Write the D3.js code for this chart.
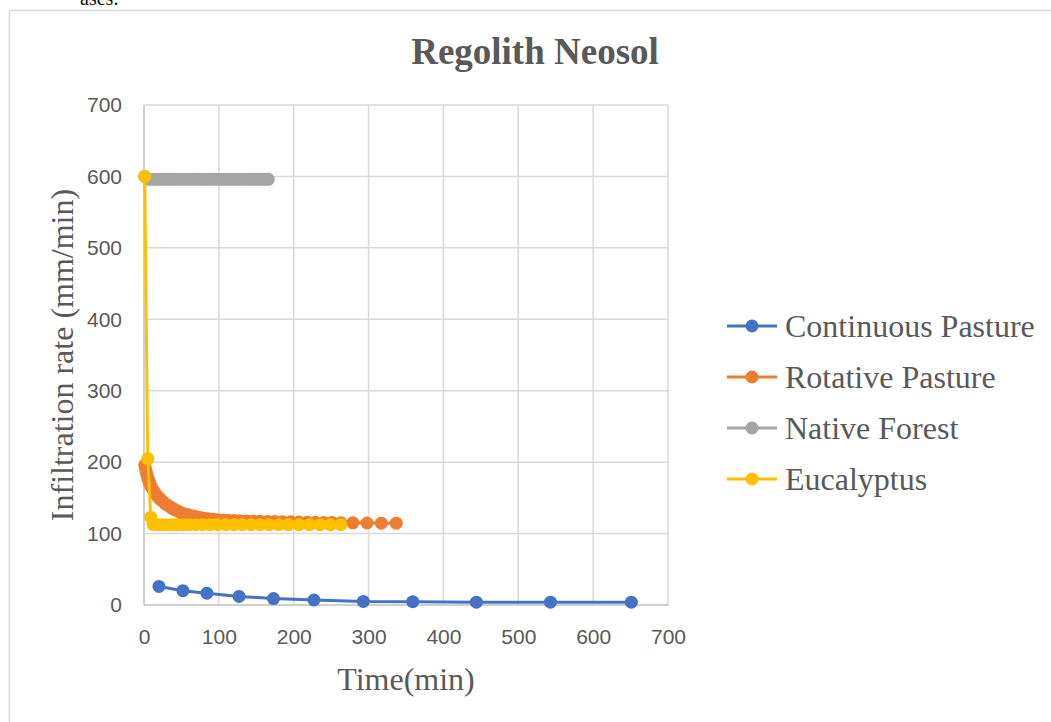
<!DOCTYPE html>
<html>
<head>
<meta charset="utf-8">
<script src="https://cdn.jsdelivr.net/npm/d3@7"></script>
<style>
  body { margin: 0; background: #fff; }
  svg { display: block; }
</style>
</head>
<body>
<svg id="chart"></svg>
<script>
// 1) Data
const seriesNames = ["Continuous Pasture", "Rotative Pasture", "Native Forest", "Eucalyptus"]
const seriesColors = ["#4472C4", "#ED7D31", "#A5A5A5", "#FFC000"]

const continuousTime = [20, 52, 84, 127, 173, 227, 293, 359, 444, 543, 651]
const continuousRate = [26, 20, 16.5, 12, 9, 7, 5, 4.6, 4, 4, 4]

const rotativeTime = [1, 2, 3, 4, 5, 6, 7, 8, 10, 12, 14, 16, 18, 20, 22, 25, 28, 31, 34, 37,
  40, 44, 48, 52, 56, 60, 65, 70, 75, 80, 86, 92, 98, 105, 112, 120, 128, 137, 146, 155,
  165, 175, 185, 196, 207, 218, 229, 240, 251, 263, 279, 298, 317, 337]
const rotativeRate = [196, 191, 186, 182, 178, 175, 172, 169, 165, 161, 158, 155, 152, 150, 148, 145, 142, 140, 138, 136,
  134, 132, 130, 128, 127, 126, 124.5, 123.5, 122.5, 121.5, 120.8, 120, 119.5, 119, 118.7, 118.4, 118, 117.7, 117.4, 117.2,
  117, 116.8, 116.6, 116.4, 116.2, 116, 115.8, 115.6, 115.4, 115.2, 115, 114.8, 114.6, 114.5]

const forestTime = [1, 6, 11, 16, 21, 26, 31, 36, 41, 46, 51, 56, 61, 66, 71, 76, 81,
  86, 91, 96, 101, 106, 111, 116, 121, 126, 131, 136, 141, 146, 151, 156, 161, 166]
const forestRate = [600, 596, 596, 596, 596, 596, 596, 596, 596, 596, 596, 596, 596, 596, 596, 596, 596,
  596, 596, 596, 596, 596, 596, 596, 596, 596, 596, 596, 596, 596, 596, 596, 596, 596]

const eucalyptusTime = [1, 5, 9, 12, 18, 24, 30, 37, 44, 52, 60, 69, 78, 88, 98, 109, 120,
  131, 143, 155, 167, 180, 193, 207, 221, 235, 249, 263]
const eucalyptusRate = [600, 205, 123, 113, 112.5, 112.5, 112.5, 112.5, 112.5, 112.5, 112.5, 112.5, 112.5, 112.5, 112.5, 112.5, 112.5,
  112.5, 112.5, 112.5, 112.5, 112.5, 112.5, 112.5, 112.5, 112.5, 112.5, 112.5]

const xTicks = [0, 100, 200, 300, 400, 500, 600, 700]
const yTicks = [0, 100, 200, 300, 400, 500, 600, 700]

const zip = (ts, vs) => ts.map((t, i) => ({ time: t, rate: vs[i] }))
const series = [
  zip(continuousTime, continuousRate),
  zip(rotativeTime, rotativeRate),
  zip(forestTime, forestRate),
  zip(eucalyptusTime, eucalyptusRate),
]

const xAccessor = (d) => d.time
const yAccessor = (d) => d.rate

// 2) Dimensions
const dimensions = {
  width: 1051,
  height: 722,
  plot: { left: 144, right: 668, top: 105, bottom: 605 },
}

const textColor = "#595959"
const serif = "'Liberation Serif', 'Times New Roman', serif"
const sans = "'Liberation Sans', Arial, sans-serif"

// 3) Canvas
const wrapper = d3.select("#chart")
  .attr("width", dimensions.width)
  .attr("height", dimensions.height)

// clipped bit of document text above the chart
wrapper.append("text")
  .attr("x", 80).attr("y", 5)
  .style("font-family", serif).style("font-size", "20px").style("fill", "#111")
  .text("ases:")

// chart frame
wrapper.append("rect")
  .attr("x", 9.5).attr("y", 10.5)
  .attr("width", 1100).attr("height", 800)
  .attr("fill", "none").attr("stroke", "#d9d9d9").attr("stroke-width", 1.5)

// 4) Scales
const xScale = d3.scaleLinear()
  .domain([0, 700])
  .range([dimensions.plot.left, dimensions.plot.right])

const yScale = d3.scaleLinear()
  .domain([0, 700])
  .range([dimensions.plot.bottom, dimensions.plot.top])

// 5) Gridlines + axes
const grid = wrapper.append("g")
grid.selectAll(".vgrid").data(xTicks).join("line")
  .attr("x1", (d) => xScale(d)).attr("x2", (d) => xScale(d))
  .attr("y1", yScale(0)).attr("y2", yScale(700))
  .attr("stroke", (d) => d === 0 ? "#bfbfbf" : "#d9d9d9").attr("stroke-width", 1.5)
grid.selectAll(".hgrid").data(yTicks).join("line")
  .attr("x1", xScale(0)).attr("x2", xScale(700))
  .attr("y1", (d) => yScale(d)).attr("y2", (d) => yScale(d))
  .attr("stroke", (d) => d === 0 ? "#bfbfbf" : "#d9d9d9").attr("stroke-width", 1.5)

const xAxis = wrapper.append("g")
  .attr("transform", `translate(0, ${dimensions.plot.bottom})`)
  .call(d3.axisBottom(xScale).tickValues(xTicks).tickSize(0).tickPadding(24))
const yAxis = wrapper.append("g")
  .attr("transform", `translate(${dimensions.plot.left}, 0)`)
  .call(d3.axisLeft(yScale).tickValues(yTicks).tickSize(0).tickPadding(22))

;[xAxis, yAxis].forEach((ax) => {
  ax.select(".domain").remove()
  ax.selectAll("text")
    .style("font-family", sans).style("font-size", "21px").style("fill", textColor)
})

// 6) Draw data
const lineGenerator = d3.line()
  .x((d) => xScale(xAccessor(d)))
  .y((d) => yScale(yAccessor(d)))

series.forEach((data, i) => {
  const g = wrapper.append("g")
  g.append("path")
    .attr("d", lineGenerator(data))
    .attr("fill", "none")
    .attr("stroke", seriesColors[i])
    .attr("stroke-width", 3)
    .attr("stroke-linejoin", "round")
  g.selectAll("circle").data(data).join("circle")
    .attr("cx", (d) => xScale(xAccessor(d)))
    .attr("cy", (d) => yScale(yAccessor(d)))
    .attr("r", 6.5)
    .attr("fill", seriesColors[i])
})

// 7) Peripherals
wrapper.append("text")
  .attr("x", 535).attr("y", 64)
  .attr("text-anchor", "middle")
  .style("font-family", serif).style("font-size", "37px").style("font-weight", "bold")
  .style("fill", textColor)
  .text("Regolith Neosol")

wrapper.append("text")
  .attr("x", 406).attr("y", 690)
  .attr("text-anchor", "middle")
  .style("font-family", serif).style("font-size", "32px").style("fill", textColor)
  .text("Time(min)")

wrapper.append("text")
  .attr("transform", "translate(73, 355) rotate(-90)")
  .attr("text-anchor", "middle")
  .style("font-family", serif).style("font-size", "32px").style("fill", textColor)
  .text("Infiltration rate (mm/min)")

const legend = wrapper.append("g")
seriesNames.forEach((name, i) => {
  const y = 326 + i * 51
  legend.append("line")
    .attr("x1", 727).attr("x2", 777).attr("y1", y).attr("y2", y)
    .attr("stroke", seriesColors[i]).attr("stroke-width", 3)
  legend.append("circle")
    .attr("cx", 752).attr("cy", y).attr("r", 6.5)
    .attr("fill", seriesColors[i])
  legend.append("text")
    .attr("x", 785).attr("y", y + 11)
    .style("font-family", serif).style("font-size", "32px").style("fill", textColor)
    .text(name)
})
</script>
</body>
</html>
